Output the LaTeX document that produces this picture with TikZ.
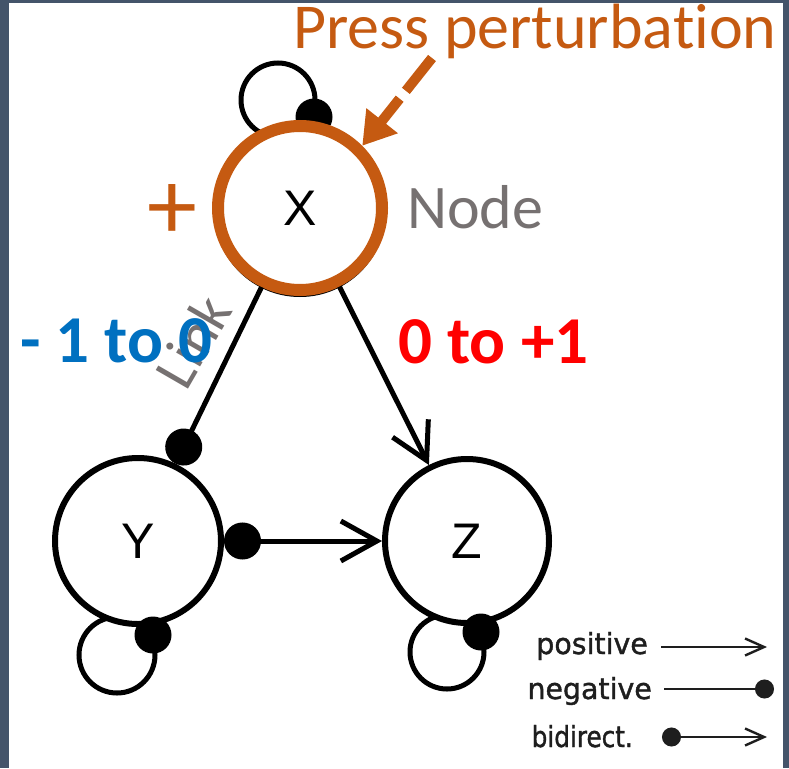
\documentclass[tikz,border=0pt]{standalone}
\usepackage{fontspec}
\setmainfont[Ligatures=NoCommon]{Carlito}
\newfontfamily\arialf{Liberation Sans}
\newfontfamily\legfont[FakeStretch=0.98,FakeBold=1.3]{DejaVu Sans}
\usetikzlibrary{arrows.meta}
\definecolor{pptorange}{HTML}{C55A11}
\definecolor{pptgray}{HTML}{767171}
\definecolor{pptblue}{HTML}{0070C0}
\definecolor{pptred}{HTML}{FF0000}
\definecolor{frame}{HTML}{44546A}
\definecolor{legink}{HTML}{1E1E1E}
\tikzset{
  graphnode/.style={circle, fill=white, inner sep=0pt, minimum size=166pt, line width=6pt, draw=black,
    font=\arialf\fontsize{50}{56}\selectfont},
  loopline/.style={line width=5pt, draw=black},
  dotnode/.style={circle, fill=black, inner sep=0pt, minimum size=37pt},
  edge/.style={line width=5pt, draw=black},
  posend/.style={-{Straight Barb[length=36pt,width=40pt]}},
  negend/.style={-{Circle[length=37pt,width=37pt]}},
  legtext/.style={anchor=base east, inner sep=0pt, text=legink, font=\legfont\fontsize{29}{32}\selectfont},
  legline/.style={line width=2.4pt, draw=legink},
}
\begin{document}
\begin{tikzpicture}[x=1pt,y=-1pt]
\useasboundingbox (0,0) rectangle (789,768);
\fill[frame] (0,0) rectangle (789,768);
\fill[white] (9,3) rectangle (783,768);

% self loops (behind nodes)
\coordinate (Xloop) at (278,100);
\coordinate (Yloop) at (117,655);
\coordinate (Zloop) at (447,652);
\draw[loopline] (Xloop) circle[radius=37];
\draw[loopline] (Yloop) circle[radius=38];
\draw[loopline] (Zloop) circle[radius=37];
\node[dotnode] (Xdot) at (314,117) {};

% nodes
\node[graphnode] (Xshadow) at (300,211) {};
\node[graphnode, draw=pptorange, line width=12pt, minimum size=164pt] (X) at (300,208) {X};
\node[graphnode] (Y) at (138,541) {Y};
\node[graphnode, minimum size=164pt] (Z) at (467,541) {Z};

\node[dotnode] (Ydot) at (153,635) {};
\node[dotnode] (Zdot) at (481,632) {};

% links
\draw[edge, negend] (X) -- (Y);
\draw[edge, posend] (X) -- (Z);
\draw[edge, {Circle[length=37pt,width=37pt]}-{Straight Barb[length=36pt,width=40pt]}] (Y) -- (Z);

% press perturbation
\node[anchor=base west, inner sep=0pt, text=pptorange, font=\fontsize{64}{70}\selectfont] (press) at (293,48.5) {Press perturbation};
\coordinate (pstart) at (432,58);
\draw[pptorange, line width=10pt, dash pattern=on 42pt off 10pt, -{Triangle[length=32pt,width=38pt]}] (pstart) -- (X.45);

\node[text=pptorange, inner sep=0pt, font=\fontsize{100}{100}\selectfont] (plus) at (172,212) {+};
\node[anchor=base west, inner sep=0pt, text=pptgray, font=\fontsize{62}{70}\selectfont] (nodelbl) at (407,228) {Node};
\node[rotate=60, inner sep=0pt, text=pptgray, font=\fontsize{58}{64}\selectfont] (linklbl) at (193,341) {Link};

\node[anchor=base west, inner sep=0pt, text=pptblue, font=\bfseries\fontsize{67}{72}\selectfont] (neglbl) at (20,362) {- 1 to 0};
\node[anchor=base west, inner sep=0pt, text=pptred, font=\bfseries\fontsize{67}{72}\selectfont] (poslbl) at (398,363) {0 to +1};

% legend
\node[legtext] (lpos) at (648,654) {positive};
\node[legtext] (lneg) at (652,699) {negative};
\node[legtext, xscale=0.87] (lbi) at (633,747) {bidirect.};
\coordinate (lp1) at (661,647); \coordinate (lp2) at (767,647);
\coordinate (ln1) at (664,689); \coordinate (ln2) at (774,689);
\coordinate (lb1) at (662,737); \coordinate (lb2) at (767,737);
\draw[legline, -{Straight Barb[length=19pt,width=17pt]}] (lp1) -- (lp2);
\draw[legline, -{Circle[length=19pt,width=19pt]}] (ln1) -- (ln2);
\draw[legline, {Circle[length=19pt,width=19pt]}-{Straight Barb[length=19pt,width=17pt]}] (lb1) -- (lb2);
\end{tikzpicture}
\end{document}
